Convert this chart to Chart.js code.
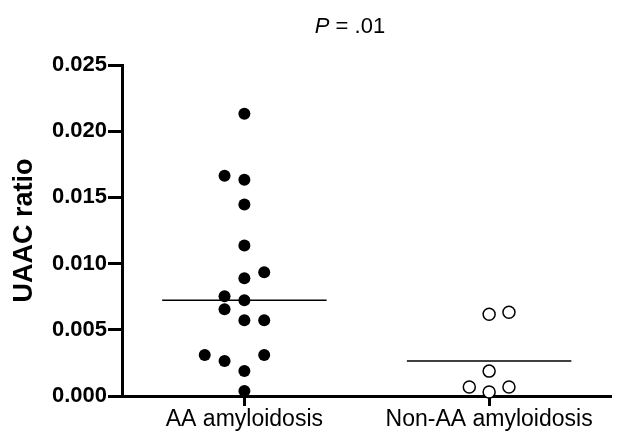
<!DOCTYPE html>
<html>
<head>
<meta charset="utf-8">
<script src="https://cdn.jsdelivr.net/npm/chart.js@4.4.1/dist/chart.umd.min.js"></script>
<style>
  html, body { margin: 0; padding: 0; background: #fff; }
  #wrap { width: 619px; height: 437px; }
</style>
</head>
<body>
<div id="wrap"><canvas id="grafico" width="619" height="437"></canvas></div>
<script>
// dati
const categorie = ['AA amyloidosis', 'Non-AA amyloidosis'];
const valoriAA = [0.02131, 0.01664, 0.01634, 0.01446, 0.01137, 0.00934, 0.00889, 0.00753, 0.00723,
  0.00655, 0.00572, 0.00572, 0.00309, 0.00264, 0.00309, 0.00188, 0.00038];
const colonneAA = [0, -1, 0, 0, 0, 1, 0, -1, 0, -1, 0, 1, -2, -1, 1, 0, 0];
const valoriNonAA = [0.00617, 0.00633, 0.00188, 0.00068, 0.00030, 0.00068];
const colonneNonAA = [0, 1, 0, -1, 0, 1];
const lineeCentrali = [0.00723, 0.00264];
const tickY = [0, 0.005, 0.010, 0.015, 0.020, 0.025];

const passo = 0.081;
const mezzaLinea = 0.336;
const font = 'Liberation Sans, Arial, Helvetica, sans-serif';

function punti(valori, colonne, centro) {
  return valori.map((v, i) => ({ x: centro + colonne[i] * passo, y: v }));
}

function linea(valore, centro) {
  return [{ x: centro - mezzaLinea, y: valore }, { x: centro + mezzaLinea, y: valore }];
}

// titolo "P = .01" con P in corsivo
const titoloP = {
  id: 'titoloP',
  afterDraw(chart) {
    const ctx = chart.ctx;
    ctx.save();
    ctx.fillStyle = '#000';
    ctx.textBaseline = 'middle';
    ctx.font = 'italic 22px ' + font;
    const wP = ctx.measureText('P').width;
    ctx.font = '22px ' + font;
    const resto = ' = .01';
    const wR = ctx.measureText(resto).width;
    const x0 = 350 - (wP + wR) / 2;
    ctx.font = 'italic 22px ' + font;
    ctx.fillText('P', x0, 27);
    ctx.font = '22px ' + font;
    ctx.fillText(resto, x0 + wP, 27);
    ctx.restore();
  }
};

const ctx = document.getElementById('grafico').getContext('2d');
new Chart(ctx, {
  type: 'scatter',
  data: {
    datasets: [
      {
        data: punti(valoriAA, colonneAA, 1),
        pointRadius: 6,
        pointBackgroundColor: '#000',
        pointBorderColor: '#000',
        pointBorderWidth: 0,
        clip: false
      },
      {
        data: punti(valoriNonAA, colonneNonAA, 2),
        pointRadius: 6,
        pointBackgroundColor: '#fff',
        pointBorderColor: '#000',
        pointBorderWidth: 1.5,
        clip: false
      },
      {
        type: 'line',
        data: linea(lineeCentrali[0], 1),
        borderColor: '#000',
        borderWidth: 1.5,
        pointRadius: 0,
        showLine: true
      },
      {
        type: 'line',
        data: linea(lineeCentrali[1], 2),
        borderColor: '#000',
        borderWidth: 1.5,
        pointRadius: 0,
        showLine: true
      }
    ]
  },
  options: {
    responsive: false,
    animation: false,
    events: [],
    layout: { padding: { top: 65, right: 4, left: 0, bottom: 0 } },
    plugins: {
      legend: { display: false },
      tooltip: { enabled: false }
    },
    scales: {
      x: {
        type: 'linear',
        min: 0.5,
        max: 2.5,
        afterBuildTicks: (scale) => { scale.ticks = [{ value: 1 }, { value: 2 }]; },
        afterFit: (scale) => { scale.height = 41; },
        border: { color: '#000', width: 3 },
        grid: { drawOnChartArea: false, tickLength: 10, tickWidth: 3, tickColor: '#000' },
        ticks: {
          color: '#000',
          padding: 0,
          maxRotation: 0,
          font: { family: font, size: 23 },
          callback: (v) => categorie[v - 1]
        }
      },
      y: {
        min: 0,
        max: 0.025,
        afterBuildTicks: (scale) => { scale.ticks = tickY.map(v => ({ value: v })); },
        afterFit: (scale) => { scale.width = 122; },
        border: { color: '#000', width: 3 },
        grid: { drawOnChartArea: false, tickLength: 14, tickWidth: 3, tickColor: '#000' },
        ticks: {
          color: '#000',
          padding: 1,
          font: { family: font, size: 22, weight: 'bold' },
          callback: (v) => v.toFixed(3)
        },
        title: {
          display: true,
          text: 'UAAC ratio',
          color: '#000',
          padding: { top: 8, bottom: 0 },
          font: { family: font, size: 27, weight: 'bold' }
        }
      }
    }
  },
  plugins: [titoloP]
});
</script>
</body>
</html>
